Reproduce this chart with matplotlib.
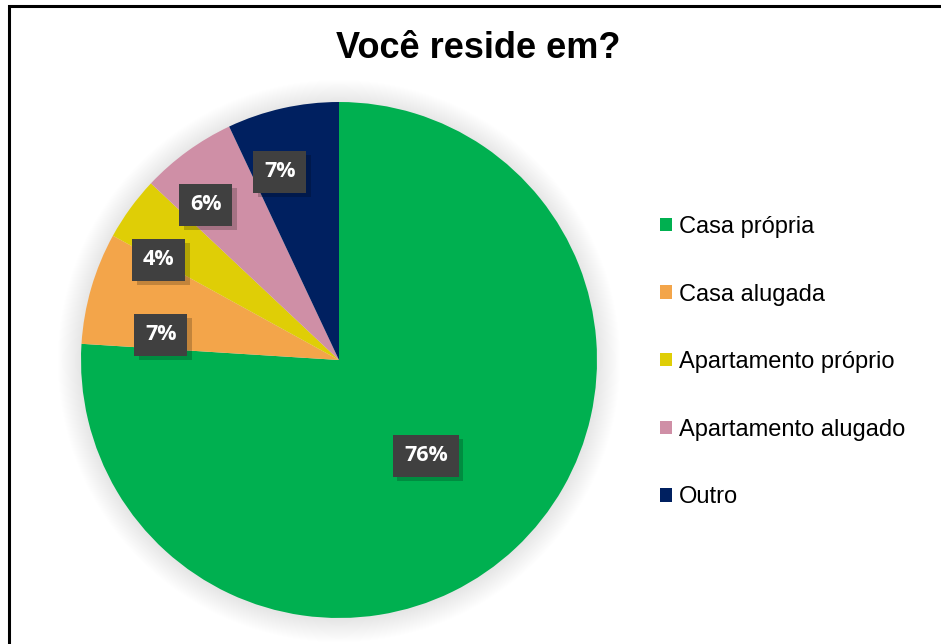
import numpy as np
import matplotlib.pyplot as plt
from matplotlib.patches import Circle, Rectangle, Patch
import matplotlib.patheffects as pe

categories = ["Casa própria", "Casa alugada", "Apartamento próprio",
              "Apartamento alugado", "Outro"]
values = [76, 7, 4, 6, 7]
colors = ["#00B050", "#F3A54A", "#DFCE06", "#CF8FA6", "#002060"]
# label positions (pie radius units), manually placed like the source chart
label_pos = [(0.337, -0.372), (-0.690, 0.097), (-0.698, 0.388),
             (-0.516, 0.601), (-0.229, 0.729)]

W, H = 941, 644
fig = plt.figure(figsize=(W / 100, H / 100), dpi=100)

# outer border (right/bottom edges run off the image)
fig.add_artist(Rectangle((9 / W, -0.05), 1.2, 1 - 6 / H + 0.05,
                         transform=fig.transFigure, fill=False,
                         edgecolor="black", linewidth=2.2))

cx, cy, r = 339, 360, 258
ax = fig.add_axes([(cx - r) / W, (H - cy - r) / H, 2 * r / W, 2 * r / H])

wedges, _ = ax.pie(values, colors=colors, startangle=90, counterclock=False,
                   radius=1, wedgeprops=dict(linewidth=0))
for w in wedges:
    w.set_zorder(1)

ax.set_xlim(-1, 1)
ax.set_ylim(-1, 1)
ax.set_aspect("equal")
ax.axis("off")

# soft glow shadow around pie
n = 25
for k in range(n):
    ax.add_patch(Circle((0, -0.004), 1.0 + 0.0036 * (n - k), color="black",
                        alpha=0.0045, lw=0, zorder=0, clip_on=False))

for v, (x, y) in zip(values, label_pos):
    t = ax.text(x, y, f"{v}%", ha="center", va="center", color="white",
                fontsize=15.5, fontweight="bold", family=["Open Sans", "DejaVu Sans"],
                zorder=5,
                bbox=dict(boxstyle="square,pad=0.5", facecolor="#404040",
                          edgecolor="none"))
    t.get_bbox_patch().set_path_effects(
        [pe.SimplePatchShadow(offset=(3, -3), shadow_rgbFace="black", alpha=0.2),
         pe.Normal()])

fig.text(478 / W, 1 - 48 / H, "Você reside em?", ha="center", va="center",
         fontsize=26, fontweight="bold", family="Liberation Sans")

handles = [Patch(facecolor=c, edgecolor="none") for c in colors]
leg = fig.legend(handles, categories, loc="upper left",
                 bbox_to_anchor=(660 / W, 1 - 216 / H), frameon=False,
                 prop=dict(family="Liberation Sans", size=17),
                 handlelength=0.5, handleheight=0.5, handletextpad=0.3,
                 labelspacing=1.93, borderpad=0, borderaxespad=0)

fig.savefig("out.png", dpi=100)
